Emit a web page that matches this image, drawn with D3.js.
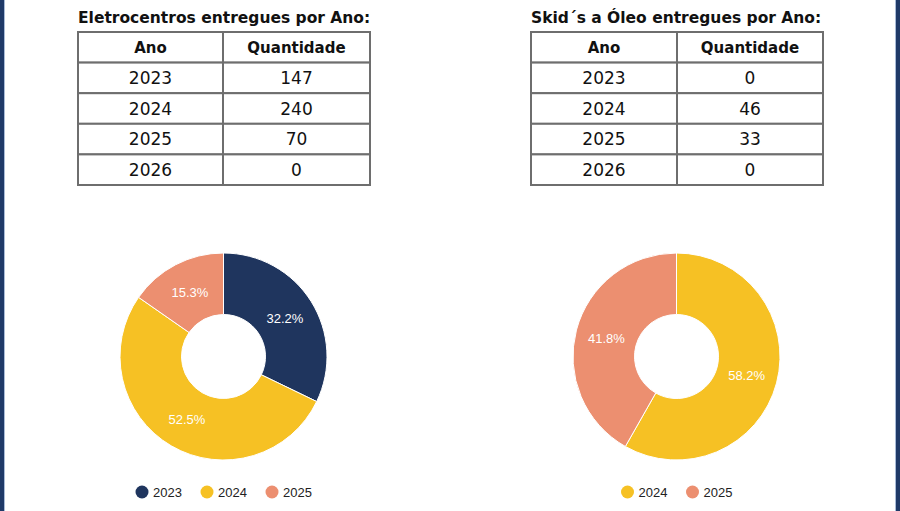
<!DOCTYPE html>
<html>
  <head>
    <meta charset="utf-8">
    <title>Entregas por Ano</title>
    <script src="https://d3js.org/d3.v7.min.js"></script>
    <style>
      body { margin: 0; background: #fff; }
      svg { display: block; }
    </style>
  </head>
  <body>
    <div id="my_dataviz"></div>
    <script>

      // dados
      var anos = ["2023", "2024", "2025", "2026"];
      var eletrocentros = [147, 240, 70, 0];
      var skids = [0, 46, 33, 0];
      var cabecalho = ["Ano", "Quantidade"];
      var titulos = ["Eletrocentros entregues por Ano:", "Skid\u00b4s a \u00d3leo entregues por Ano:"];
      var cores = ["#1f355e", "#f6c124", "#ec8f70", "#9e9e9e"];

      var width = 900, height = 511;

      var svg = d3.select("#my_dataviz")
        .append("svg")
          .attr("width", width)
          .attr("height", height);

      // barras laterais azuis
      svg.append("rect").attr("x", 0).attr("y", 0).attr("width", 4).attr("height", height).attr("fill", "#1f3a68");
      svg.append("rect").attr("x", 4).attr("y", 0).attr("width", 1).attr("height", height).attr("fill", "#a9bcd8");
      svg.append("rect").attr("x", 896).attr("y", 0).attr("width", 4).attr("height", height).attr("fill", "#1f3a68");
      svg.append("rect").attr("x", 895).attr("y", 0).attr("width", 1).attr("height", height).attr("fill", "#a9bcd8");

      var cor = d3.scaleOrdinal().domain(anos).range(cores);
      var pct = d3.format(".1%");

      var paineis = [
        { titulo: titulos[0], valores: eletrocentros, x0: 78, xm: 223, x1: 370, cx: 223.5 },
        { titulo: titulos[1], valores: skids, x0: 531, xm: 677, x1: 823, cx: 676.5 }
      ];

      paineis.forEach(function(p) {
        var g = svg.append("g");

        // titulo
        g.append("text")
          .attr("x", p.x0)
          .attr("y", 23)
          .attr("font-family", "DejaVu Sans")
          .attr("font-weight", "bold")
          .attr("font-size", "15.5px")
          .attr("fill", "#111")
          .text(p.titulo);

        // tabela
        var linhas = [cabecalho].concat(anos.map(function(a, i) { return [a, String(p.valores[i])]; }));
        var y = d3.scaleBand().domain(d3.range(linhas.length)).range([32, 185]);
        var colX = [(p.x0 + p.xm) / 2, (p.xm + p.x1) / 2];

        var tab = g.append("g");
        tab.selectAll("rect.cell")
          .data(linhas)
          .join("rect")
            .attr("x", p.x0)
            .attr("y", function(d, i) { return y(i); })
            .attr("width", p.x1 - p.x0)
            .attr("height", y.bandwidth())
            .attr("fill", "#fff")
            .attr("stroke", "#6e6e6e")
            .attr("stroke-width", 2);
        tab.append("line")
          .attr("x1", p.xm).attr("x2", p.xm)
          .attr("y1", 32).attr("y2", 185)
          .attr("stroke", "#6e6e6e")
          .attr("stroke-width", 2);

        linhas.forEach(function(l, i) {
          l.forEach(function(t, j) {
            tab.append("text")
              .attr("x", colX[j])
              .attr("y", y(i) + y.bandwidth() / 2)
              .attr("dy", "0.36em")
              .attr("text-anchor", "middle")
              .attr("font-family", "DejaVu Sans")
              .attr("font-weight", i === 0 ? "bold" : "normal")
              .attr("font-size", i === 0 ? "15px" : "17px")
              .attr("fill", "#111")
              .text(t);
          });
        });

        // rosca
        var dados = anos.map(function(a, i) { return { ano: a, valor: p.valores[i] }; })
          .filter(function(d) { return d.valor > 0; });

        var pie = d3.pie().sort(null).value(function(d) { return d.valor; });
        var arc = d3.arc().innerRadius(42).outerRadius(103.5);
        var arcLabel = d3.arc().innerRadius(72.5).outerRadius(72.5);

        var rosca = g.append("g").attr("transform", "translate(" + p.cx + ",356.5)");
        var fatias = pie(dados);

        rosca.selectAll("path")
          .data(fatias)
          .join("path")
            .attr("d", arc)
            .attr("fill", function(d) { return cor(d.data.ano); })
            .attr("stroke", "#fff")
            .attr("stroke-width", 1);

        rosca.selectAll("text")
          .data(fatias)
          .join("text")
            .attr("transform", function(d) { return "translate(" + arcLabel.centroid(d) + ")"; })
            .attr("dy", "0.35em")
            .attr("text-anchor", "middle")
            .attr("font-family", "Liberation Sans, Arial")
            .attr("font-size", "13px")
            .attr("fill", "#fff")
            .text(function(d) { return pct((d.endAngle - d.startAngle) / (2 * Math.PI)); });

        // legenda
        var passo = 65;
        var larg = passo * (dados.length - 1) + 45;
        var lx0 = p.cx - larg / 2;
        var leg = g.append("g").selectAll("g")
          .data(dados)
          .join("g")
            .attr("transform", function(d, i) { return "translate(" + (lx0 + 6 + i * passo) + ",492)"; });
        leg.append("circle")
          .attr("r", 6.5)
          .attr("fill", function(d) { return cor(d.ano); });
        leg.append("text")
          .attr("x", 11)
          .attr("dy", "0.35em")
          .attr("font-family", "Liberation Sans, Arial")
          .attr("font-size", "13px")
          .attr("fill", "#222")
          .text(function(d) { return d.ano; });
      });

    </script>
  </body>
</html>
